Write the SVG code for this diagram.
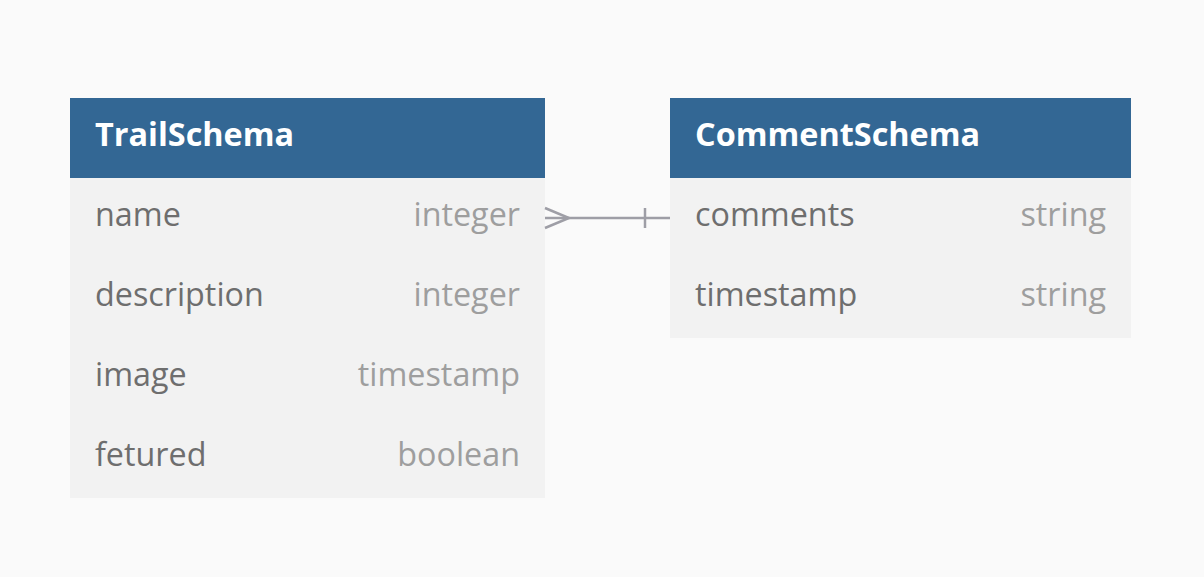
<svg xmlns="http://www.w3.org/2000/svg" width="1204" height="577" viewBox="0 0 1204 577">
<style>
.hdr{fill:#336794}
.row{fill:#f2f2f2}
.title{font-family:"Open Sans",sans-serif;font-weight:bold;font-size:32.4px;fill:#ffffff}
.name{font-family:"Open Sans",sans-serif;font-size:32.3px;fill:#6e6e6e}
.type{font-family:"Open Sans",sans-serif;font-size:32.3px;fill:#9e9e9e;text-anchor:end}
.conn{stroke:#9e9ea6;stroke-width:2.5;fill:none}
</style>
<rect width="1204" height="577" fill="#fafafa"/>
<g id="TrailSchema">
<rect class="row" x="70" y="178" width="475" height="320"/>
<rect class="hdr" x="70" y="98" width="475" height="80"/>
<text class="title" x="95" y="146">TrailSchema</text>
<text class="name" x="95" y="226">name</text><text class="type" x="520" y="226">integer</text>
<text class="name" x="95" y="306">description</text><text class="type" x="520" y="306">integer</text>
<text class="name" x="95" y="386">image</text><text class="type" x="520" y="386">timestamp</text>
<text class="name" x="95" y="466">fetured</text><text class="type" x="520" y="466">boolean</text>
</g>
<g id="CommentSchema">
<rect class="row" x="670" y="178" width="461" height="160"/>
<rect class="hdr" x="670" y="98" width="461" height="80"/>
<text class="title" x="695" y="146">CommentSchema</text>
<text class="name" x="695" y="226">comments</text><text class="type" x="1106" y="226">string</text>
<text class="name" x="695" y="306">timestamp</text><text class="type" x="1106" y="306">string</text>
</g>
<g id="connectors">
<path class="conn" d="M545 218 H670"/>
<path class="conn" d="M545 208 L569 218 L545 228"/>
<path class="conn" d="M645 208 V228"/>
</g>
</svg>
